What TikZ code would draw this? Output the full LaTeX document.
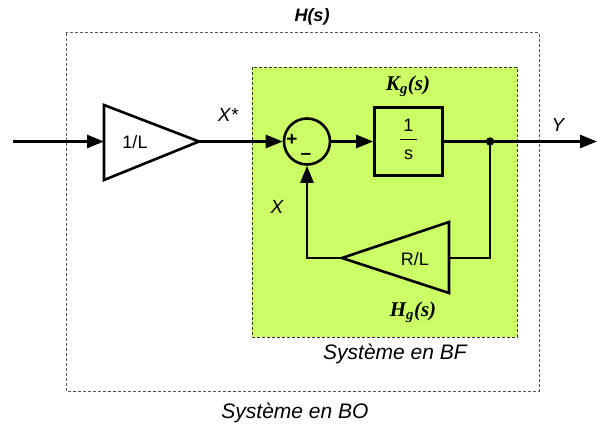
\documentclass[tikz,border=0pt]{standalone}
\usepackage{fontspec}
\setmainfont{Liberation Sans}
\newfontfamily\serifbi{Liberation Serif}
\usetikzlibrary{arrows.meta}
\definecolor{bfgreen}{HTML}{CCFF66}
\tikzset{
  wire/.style={line width=2.6pt},
  arr/.style={wire,-{Triangle[length=17pt,width=13pt]}},
  lbl/.style={font=\fontsize{19}{21}\selectfont\itshape},
  big/.style={font=\fontsize{21}{23}\selectfont\itshape},
  txt/.style={font=\fontsize{18}{20}\selectfont},
  gainbox/.style={draw,line width=2.6pt},
}
\begin{document}
\begin{tikzpicture}[x=1pt,y=-1pt]
\useasboundingbox (0,0) rectangle (597,428);
% outer dashed box
\draw[gray!70!black,dash pattern=on 3pt off 2pt,line width=1pt] (66,33) rectangle (539,391);
% green box
\draw[fill=bfgreen,dash pattern=on 3pt off 2pt,line width=0.9pt,draw=black!80] (252,67) rectangle (517,337);
% title labels
\node[font=\fontsize{18}{20}\selectfont\bfseries\itshape] (H) at (312,17) {H(s)};
\node[big] (BO) at (295,413) {Système en BO};
\node[big] (BF) at (395,354) {Système en BF};
% input gain triangle 1/L
\coordinate (inS) at (13,141.5);
\coordinate (t1a) at (104,105);
\coordinate (t1b) at (104,180);
\coordinate (t1tip) at (199,141.5);
\coordinate (t1in) at (104,141.5);
\draw[wire,line join=miter] (t1a) -- (t1tip) -- (t1b) -- cycle;
\node[txt] (l1) at (135,142) {1/L};
\draw[arr] (inS) -- (t1in);
% sum junction
\node[draw,circle,line width=2.6pt,minimum size=46pt,inner sep=0pt] (sum) at (307,141.5) {};
\node[font=\fontsize{19}{20}\selectfont\bfseries] (plus) at (292,140) {+};
\node[font=\fontsize{19}{20}\selectfont\bfseries] (minus) at (306,156) {–};
\draw[arr] (t1tip) -- (sum.west);
\node[lbl] (Xs) at (228,115) {X*};
% 1/s block
\node[gainbox,minimum width=68pt,minimum height=68pt,inner sep=0pt] (K) at (408.5,141.5) {};
\node[txt,inner sep=0pt] (Kn) at (408.5,125) {1};
\node[txt,inner sep=0pt] (Kd) at (408.5,155) {s};
\draw[line width=1.5pt] (400,139.5) -- (417,139.5);
\node[font=\fontsize{21}{24}\selectfont\serifbi\bfseries\itshape] (Kg) at (408,86) {K\textsubscript{g}(s)};
\draw[arr] (sum.east) -- (K.west);
% output
\coordinate (dot) at (490,141.5);
\coordinate (out) at (597,141.5);
\draw[arr] (K.east) -- (out);
\fill (dot) circle (4.2pt);
\node[lbl] (Y) at (558,125) {Y};
% feedback triangle R/L
\coordinate (t2a) at (449,222);
\coordinate (t2b) at (449,293);
\coordinate (t2tip) at (342,258);
\coordinate (t2in) at (449,258);
\draw[wire,line join=miter] (t2a) -- (t2tip) -- (t2b) -- cycle;
\node[txt] (l2) at (415,259) {R/L};
\draw[wire] (dot) |- (t2in);
\coordinate (fbc) at (307,258);
\draw[arr] (t2tip) -- (fbc) -- (sum.south);
\node[lbl] (X) at (277,207) {X};
\node[font=\fontsize{21}{24}\selectfont\serifbi\bfseries\itshape] (Hg) at (413,312) {H\textsubscript{g}(s)};
\end{tikzpicture}
\end{document}
